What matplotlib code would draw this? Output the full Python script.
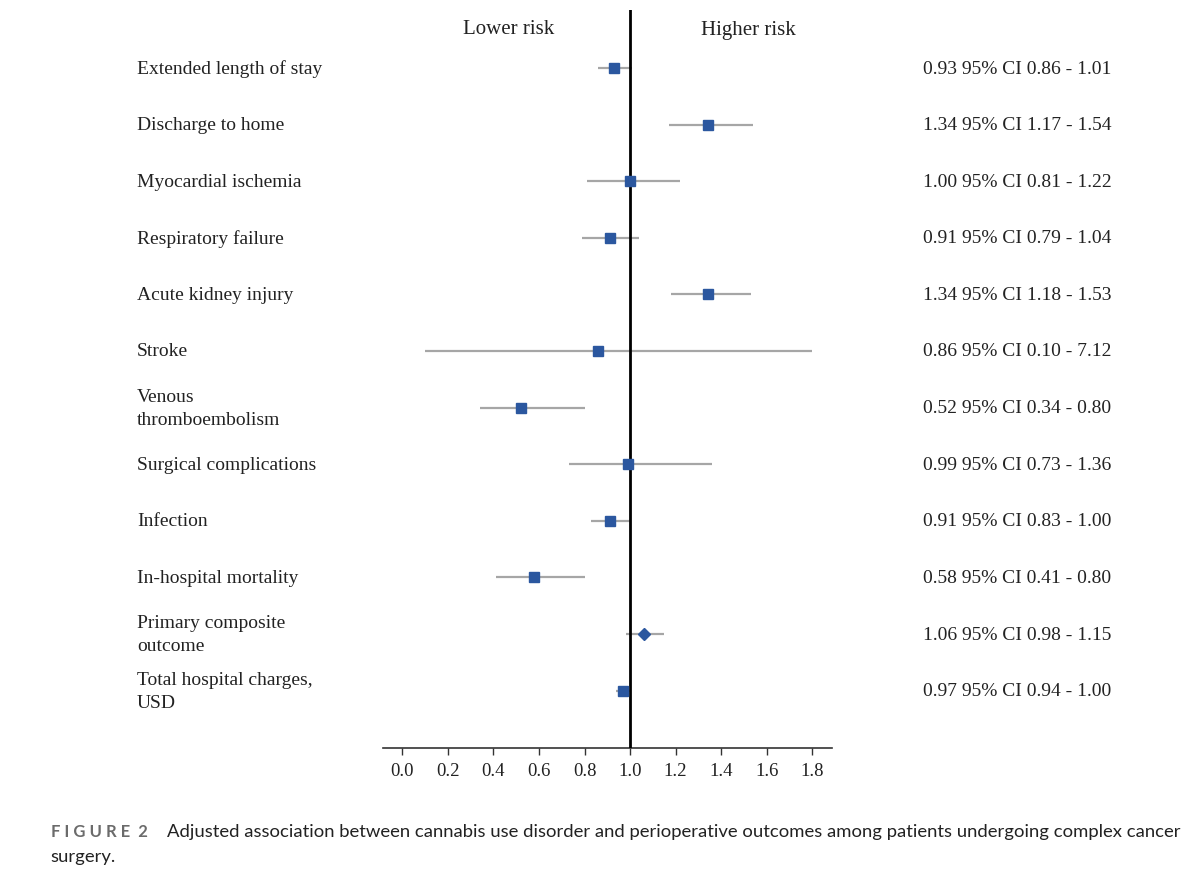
import matplotlib
matplotlib.use("Agg")
import matplotlib.pyplot as plt

outcomes = ["Extended length of stay", "Discharge to home", "Myocardial ischemia",
            "Respiratory failure", "Acute kidney injury", "Stroke",
            "Venous\nthromboembolism", "Surgical complications", "Infection",
            "In-hospital mortality", "Primary composite\noutcome",
            "Total hospital charges,\nUSD"]
estimate = [0.93, 1.34, 1.00, 0.91, 1.34, 0.86, 0.52, 0.99, 0.91, 0.58, 1.06, 0.97]
lower = [0.86, 1.17, 0.81, 0.79, 1.18, 0.10, 0.34, 0.73, 0.83, 0.41, 0.98, 0.94]
upper = [1.01, 1.54, 1.22, 1.04, 1.53, 7.12, 0.80, 1.36, 1.00, 0.80, 1.15, 1.00]
markers = ["s"] * 10 + ["D", "s"]
xticks = [0.0, 0.2, 0.4, 0.6, 0.8, 1.0, 1.2, 1.4, 1.6, 1.8]

W, H = 1191, 874
fig = plt.figure(figsize=(W / 100, H / 100), dpi=100)
x0, x1 = 382.7, 831.7
ytop, ybot = 10, 748
ax = fig.add_axes([x0 / W, 1 - ybot / H, (x1 - x0) / W, (ybot - ytop) / H])

px_per = (812.3 - 402.3) / 1.8
ax.set_xlim((x0 - 402.3) / px_per, (x1 - 402.3) / px_per)
row0, rowstep = 68, 56.6
ax.set_ylim((ybot - row0) / rowstep, (ytop - row0) / rowstep)

serif = "Liberation Serif"
blue = "#2b579f"
XMAX = 1.8
for i, (e, lo, hi, m) in enumerate(zip(estimate, lower, upper, markers)):
    ax.plot([lo, min(hi, XMAX)], [i, i], color="#a6a6a6", lw=1.6, zorder=2, solid_capstyle="butt")
    ax.plot([e], [i], marker=m, color=blue, markersize=7 if m == "s" else 6.5, zorder=4, linestyle="none")
    yy = 1 - (row0 + 1 + i * rowstep) / H
    fig.text(137 / W, yy, outcomes[i], family=serif, fontsize=14,
             ha="left", va="center", color="#222222", linespacing=1.45)
    fig.text(923 / W, yy,
             f"{e:.2f} 95% CI {lo:.2f} - {hi:.2f}", family=serif, fontsize=14,
             ha="left", va="center", color="#222222")

ax.axvline(1.0, color="black", lw=2, zorder=3)

for s in ["top", "right", "left"]:
    ax.spines[s].set_visible(False)
ax.spines["bottom"].set_color("#333333")
ax.spines["bottom"].set_linewidth(1.2)
ax.set_yticks([])
ax.set_xticks(xticks)
ax.set_xticklabels([f"{t:.1f}" for t in xticks], family=serif, fontsize=13.5, color="#222222")
ax.tick_params(axis="x", direction="out", length=5, width=1, color="#333333", pad=6)

fig.text(509 / W, 1 - 30 / H, "Lower risk", family=serif, fontsize=15, ha="center", va="center", color="#222222")
fig.text(748 / W, 1 - 30 / H, "Higher risk", family=serif, fontsize=15, ha="center", va="center", color="#222222")

fig.text(51 / W, 1 - 832 / H, "F I G U R E  2", family="Lato", fontsize=12, fontweight="bold",
         ha="left", va="center", color="#6b6b6b")
fig.text(167 / W, 1 - 832 / H,
         "Adjusted association between cannabis use disorder and perioperative outcomes among patients undergoing complex cancer",
         family="Lato", fontsize=13.3, ha="left", va="center", color="#222222")
fig.text(50 / W, 1 - 857 / H, "surgery.", family="Lato", fontsize=13.3, ha="left", va="center", color="#222222")

fig.savefig("out.png", dpi=100)
